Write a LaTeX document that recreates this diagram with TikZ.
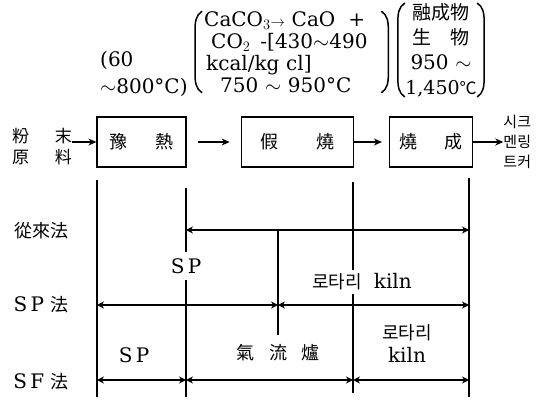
\documentclass[tikz,border=0pt]{standalone}
\usepackage{fontspec}
\setmainfont{DejaVu Serif}
\newfontfamily\cjk{Noto Sans CJK KR}
\usetikzlibrary{arrows.meta,positioning,calc}

\begin{document}
\begin{tikzpicture}[x=1pt, y=-1pt,
  box/.style={draw, line width=1.3pt, minimum height=50pt, font=\cjk\fontsize{18}{20}\selectfont},
  han/.style={font=\cjk\fontsize{18}{21}\selectfont, inner sep=0pt, align=center},
  txt/.style={font=\fontsize{20}{22}\selectfont, inner sep=0pt, align=center},
  flow/.style={-{Stealth[length=8pt,width=7pt]}, line width=1.1pt},
  span/.style={{Stealth[length=7pt,width=7pt]}-{Stealth[length=7pt,width=7pt]}, line width=1.1pt},
  bar/.style={line width=1.6pt},
  paren/.style={line width=1.5pt}
]
\useasboundingbox (0,0) rectangle (548,399);

\node[box, minimum width=89pt] (heat) at (141.5,142) {豫\hspace{1.6em}熱};
\node[box, minimum width=112pt, right=54pt of heat] (calc) {假\hspace{2.1em}燒};
\node[box, minimum width=83pt, right=35pt of calc] (burn) {燒\hspace{1.5em}成};
\node[han, font=\cjk\fontsize{17}{21}\selectfont] (raw) at (42,147) {粉\hspace{1.5em}末\\原\hspace{1.5em}料};
\node[han, font=\cjk\fontsize{15}{20}\selectfont, right=30pt of burn] (out) {시크\\멘링\\트커};

\node[txt, align=left, font=\fontsize{20}{27}\selectfont, anchor=west] (pre) at (100,74) {(60\\$\sim$800°C)};
\node[txt, text width=175pt, align=left, inner xsep=9pt, anchor=west] (calcnote) at (195,52)
  {CaCO$_3$$\scriptstyle\to$ CaO\hspace{13pt}+\\\hspace*{7pt}CO$_2$\, -[430$\sim$490\\\hspace*{2pt}kcal/kg cl]\\\hspace*{16pt}750 $\sim$ 950°C};
\node[txt, text width=76pt, inner xsep=5pt, font=\fontsize{20}{25}\selectfont] (meltnote) at (441,50)
  {{\cjk\fontsize{19}{25}\selectfont 融成物}\\{\cjk\fontsize{19}{25}\selectfont 生\hspace{1em}物}\\950 $\sim$\\{\fontsize{19}{25}\selectfont 1,450}{\cjk\fontsize{17}{25}\selectfont ℃}};

\draw[paren] ($(calcnote.north west)+(7,0)$) .. controls ($(calcnote.north west)+(1,4)$) and ($(calcnote.north west)+(0,10)$) .. ($(calcnote.north west)+(0,20)$)
  -- ($(calcnote.south west)+(0,-20)$) .. controls ($(calcnote.south west)+(0,-10)$) and ($(calcnote.south west)+(1,-4)$) .. ($(calcnote.south west)+(7,0)$);
\draw[paren] ($(calcnote.north east)+(-7,0)$) .. controls ($(calcnote.north east)+(-1,4)$) and ($(calcnote.north east)+(0,10)$) .. ($(calcnote.north east)+(0,20)$)
  -- ($(calcnote.south east)+(0,-20)$) .. controls ($(calcnote.south east)+(0,-10)$) and ($(calcnote.south east)+(-1,-4)$) .. ($(calcnote.south east)+(-7,0)$);
\draw[paren] ($(meltnote.north west)+(7,0)$) .. controls ($(meltnote.north west)+(1,4)$) and ($(meltnote.north west)+(0,10)$) .. ($(meltnote.north west)+(0,20)$)
  -- ($(meltnote.south west)+(0,-20)$) .. controls ($(meltnote.south west)+(0,-10)$) and ($(meltnote.south west)+(1,-4)$) .. ($(meltnote.south west)+(7,0)$);
\draw[paren] ($(meltnote.north east)+(-7,0)$) .. controls ($(meltnote.north east)+(-1,4)$) and ($(meltnote.north east)+(0,10)$) .. ($(meltnote.north east)+(0,20)$)
  -- ($(meltnote.south east)+(0,-20)$) .. controls ($(meltnote.south east)+(0,-10)$) and ($(meltnote.south east)+(-1,-4)$) .. ($(meltnote.south east)+(-7,0)$);

\draw[flow] (raw.east |- heat.west) -- (heat.west);
\draw[flow, shorten <=11pt, shorten >=11pt] (heat) -- (calc);
\draw[flow, shorten >=7pt] (calc) -- (burn);
\draw[flow] (burn) -- (out);

\node[han] (old) at (41,231) {從來法};
\node[txt] (spm) at (41,305) {S\,P\ {\cjk\fontsize{18}{21}\selectfont 法}};
\node[txt] (sfm) at (41,382) {S\,F\ {\cjk\fontsize{18}{21}\selectfont 法}};

\coordinate (p1) at (97,180); \coordinate (q1) at (97,397);
\coordinate (p2) at (186,188); \coordinate (q2) at (186,397);
\coordinate (p3) at (278,230); \coordinate (q3) at (278,335);
\coordinate (p4) at (353,182); \coordinate (q4) at (353,393);
\coordinate (p5) at (469,178); \coordinate (q5) at (469,397);
\coordinate (r1) at (0,230); \coordinate (r2) at (0,305); \coordinate (r3) at (0,380);

\node[txt, inner sep=6pt] (sp1) at (186,266) {S\,P};
\node[txt, inner sep=3pt] (kiln1) at (362,282) {{\cjk\fontsize{18}{21}\selectfont 로타리}\hspace{12pt}kiln};
\node[txt] (sp2) at (134,355) {S\,P};
\node[han] (flash) at (278,353) {氣\hspace{.8em}流\hspace{.8em}爐};
\node[txt, font=\fontsize{20}{23}\selectfont] (kiln2) at (407,344) {{\cjk\fontsize{18}{21}\selectfont 로타리}\\kiln};

\draw[bar] (p1) -- (q1);
\draw[bar] (p2) -- (sp1); \draw[bar] (sp1) -- (q2);
\draw[bar] (p3) -- (q3);
\draw[bar] (p4) -- (p4 |- kiln1.north); \draw[bar] (p4 |- kiln1.south) -- (q4);
\draw[bar, line width=2.4pt] (p5) -- (q5);

\draw[span] (p2 |- r1) -- (p5 |- r1);
\draw[span] (p1 |- r2) -- (p3 |- r2); \draw[span] (p3 |- r2) -- (p5 |- r2);
\draw[span] (p1 |- r3) -- (p2 |- r3); \draw[span] (p2 |- r3) -- (p4 |- r3);
\draw[span] (p4 |- r3) -- (p5 |- r3);
\end{tikzpicture}
\end{document}
